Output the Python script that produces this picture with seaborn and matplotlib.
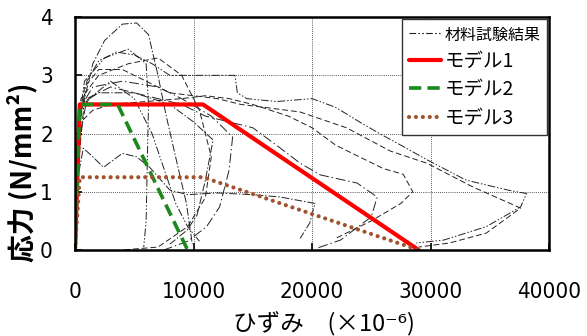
import numpy as np
import pandas as pd
import seaborn as sns
import matplotlib.pyplot as plt
from matplotlib.lines import Line2D
from matplotlib import font_manager

# material test curves: strain (x10^-6) and stress (N/mm2)
test1_strain = [0, 300, 800, 1500, 2500, 4000, 5200, 6200, 7000, 7700, 8600, 9400, 9900]
test1_stress = [0, 1.5, 2.6, 3.2, 3.6, 3.88, 3.9, 3.7, 3.0, 2.3, 1.5, 0.8, 0.1]

test2_strain = [0, 400, 1000, 2000, 3500, 5000, 6500, 8000, 10000, 12000, 13500, 13700, 14500,
                17000, 20000, 22000, 24000, 25700, 27500, 29700, 33000, 36500, 38100, 37600,
                34700, 31100, 28800]
test2_stress = [0, 2.2, 2.9, 3.25, 3.4, 3.35, 3.2, 3.0, 3.0, 3.0, 3.0, 2.7, 2.6,
                2.55, 2.6, 2.45, 2.2, 2.0, 1.8, 1.55, 1.2, 1.03, 0.97, 0.74,
                0.4, 0.17, 0.12]

test3_strain = [0, 300, 800, 2000, 4000, 6000, 8000, 10000, 12000, 14000, 16000, 19000,
                22900, 26600, 29700, 33600, 37600, 34700, 31600, 29000]
test3_stress = [0, 2.0, 2.8, 3.1, 3.1, 2.9, 2.7, 2.65, 2.6, 2.5, 2.45, 2.37,
                2.1, 1.7, 1.49, 1.08, 0.72, 0.29, 0.12, 0.05]

test4_strain = [0, 300, 1000, 3000, 5000, 7000, 9000, 11000, 13000, 15000, 17000, 19000,
                20700, 23800, 25500, 25000, 22400, 20400]
test4_stress = [0, 1.8, 2.6, 2.8, 2.7, 2.6, 2.5, 2.3, 2.2, 2.1, 1.8, 1.49,
                1.29, 1.15, 0.91, 0.57, 0.17, 0.03]

test5_strain = [0, 200, 700, 1500, 2400, 4000, 5200, 6300, 8000, 9500, 12000, 15000,
                17300, 20250, 19800, 19000]
test5_stress = [0, 1.2, 1.75, 1.6, 1.42, 1.66, 1.6, 1.42, 1.03, 0.95, 0.98, 0.95,
                0.91, 0.8, 0.46, 0.2]

test6_strain = [0, 300, 1200, 3000, 5000, 6500, 7500, 8500, 9500, 10500]
test6_stress = [0, 2.3, 2.6, 2.9, 2.6, 2.0, 1.4, 0.8, 0.4, 0.15]

test7_strain = [0, 500, 2000, 4500, 7000, 9000, 10500, 11500, 11000, 9500, 7000, 4000]
test7_stress = [0, 2.6, 3.0, 3.2, 3.3, 3.0, 2.4, 1.6, 0.9, 0.4, 0.05, 0]

test8_strain = [0, 300, 1500, 4000, 7000, 9000, 11500, 13300, 13000, 12200, 11100, 9500, 7500]
test8_stress = [0, 2.4, 2.8, 2.9, 2.8, 2.6, 2.3, 1.94, 1.37, 0.74, 0.4, 0.15, 0]

test9_strain = [0, 400, 2000, 5000, 8000, 10000, 11650, 11000, 10300, 9450, 8000]
test9_stress = [0, 2.5, 2.7, 2.7, 2.5, 2.2, 1.89, 1.2, 0.6, 0.34, 0.1]

test10_strain = [0, 200, 800, 2500, 4500, 6000, 6200, 6100, 6000, 5800]
test10_stress = [0, 2.0, 2.9, 3.3, 3.45, 3.2, 2.5, 1.5, 0.5, 0.05]

test11_strain = [0, 500, 1500, 3000, 6000, 9000, 11000, 13000, 15000, 18000, 20000, 22000,
                 24000, 26000, 27700, 28500, 27500, 25000, 22000]
test11_stress = [0, 2.2, 2.4, 2.5, 2.55, 2.6, 2.65, 2.6, 2.5, 2.3, 2.1, 1.8,
                 1.6, 1.4, 1.3, 1.0, 0.8, 0.5, 0.2]

# model curves
model1_strain = [0, 400, 10800, 29000]
model1_stress = [0, 2.5, 2.5, 0]
model2_strain = [0, 400, 3600, 9500]
model2_stress = [0, 2.5, 2.5, 0]
model3_strain = [0, 400, 10800, 29000]
model3_stress = [0, 1.25, 1.25, 0]

x_ticks = [0, 10000, 20000, 30000, 40000]
y_ticks = [0, 1, 2, 3, 4]
legend_labels = ['材料試験結果', 'モデル1', 'モデル2', 'モデル3']

tests = [(test1_strain, test1_stress), (test2_strain, test2_stress), (test3_strain, test3_stress),
         (test4_strain, test4_stress), (test5_strain, test5_stress), (test6_strain, test6_stress),
         (test7_strain, test7_stress), (test8_strain, test8_stress), (test9_strain, test9_stress),
         (test10_strain, test10_stress), (test11_strain, test11_stress)]
frames = []
for i, (xs, ys) in enumerate(tests):
    frames.append(pd.DataFrame({'strain': xs, 'stress': ys, 'curve': 'T%d' % (i + 1)}))
test_df = pd.concat(frames, ignore_index=True)

dash_cycle = [(8, 2, 1.5, 2), (8, 2, 1.5, 2, 1.5, 2), (6, 3), (10, 3, 1.5, 3)]
test_dashes = [dash_cycle[i % len(dash_cycle)] for i in range(len(tests))]

# narrow font for the numbers, if one is around
fonts = font_manager.fontManager.ttflist
names = {f.name for f in fonts}
num_font = dict(fontfamily='Roboto', fontsize=16)
if 'Liberation Sans Narrow' in names:
    num_font = dict(fontfamily='Liberation Sans Narrow', fontsize=17)
elif any(f.name == 'DejaVu Sans' and f.stretch == 'condensed' for f in fonts):
    num_font = dict(fontfamily='DejaVu Sans', fontstretch='condensed', fontsize=16)

sns.set_style('white')
plt.rcParams['font.family'] = ['Noto Sans CJK JP', 'DejaVu Sans']
plt.rcParams['text.color'] = 'black'
plt.rcParams['axes.labelcolor'] = 'black'
plt.rcParams['xtick.color'] = 'black'
plt.rcParams['ytick.color'] = 'black'

fig = plt.figure(figsize=(5.87, 3.36), dpi=100)
ax = fig.add_axes([0.1278, 0.256, 0.8075, 0.693])

sns.lineplot(data=test_df, x='strain', y='stress', style='curve', dashes=test_dashes,
             units='curve', estimator=None, sort=False, color='#222222', lw=0.7,
             legend=False, ax=ax)

sns.lineplot(x=model1_strain, y=model1_stress, sort=False, color='#FF0000', lw=3,
             ax=ax)
sns.lineplot(x=model2_strain, y=model2_stress, sort=False, color='#1A8A1A', lw=2.6,
             linestyle=(0, (3.4, 1.7)), ax=ax)
sns.lineplot(x=model3_strain, y=model3_stress, sort=False, color='#A0522D', lw=3,
             linestyle=(0, (0.01, 1.65)), dash_capstyle='round', ax=ax)

ax.set_xlim(0, 40000)
ax.set_ylim(0, 4)
ax.set_xticks(x_ticks, labels=[str(v) for v in x_ticks], **num_font)
ax.set_yticks(y_ticks, labels=[str(v) for v in y_ticks], **num_font)
ax.tick_params(axis='x', direction='in', length=5, width=1.2, bottom=True, pad=23)
ax.tick_params(axis='y', direction='in', length=5, width=1.2, left=True, pad=16)
ax.grid(True, color='#222222', linestyle=(0, (1, 1.5)), lw=0.6)
for s in ax.spines.values():
    s.set_color('black')
    s.set_linewidth(1.8)

ax.set_ylabel('応力 (N/mm²)', fontsize=20, fontweight='bold')
ax.yaxis.set_label_coords(-0.08, 0.335)
ax.set_xlabel('ひずみ　(×10⁻⁶)', fontsize=17)
ax.xaxis.set_label_coords(0.525, -0.265)

handles = [
    Line2D([], [], color='#222222', lw=0.8, linestyle=(0, (6, 2, 1.5, 2, 1.5, 2))),
    Line2D([], [], color='#FF0000', lw=3),
    Line2D([], [], color='#1A8A1A', lw=2.6, linestyle=(0, (3.4, 1.7))),
    Line2D([], [], color='#A0522D', lw=3, linestyle=(0, (0.01, 1.65)), dash_capstyle='round'),
]
leg = ax.legend(handles, legend_labels, loc='upper right', bbox_to_anchor=(1.0, 1.0),
                borderaxespad=0.1, fontsize=14, handlelength=1.65, handletextpad=0.15,
                labelspacing=0.38, borderpad=0.35, fancybox=False, framealpha=1,
                edgecolor='#333333')
leg.get_frame().set_linewidth(1.0)
leg.get_texts()[0].set_fontsize(11.5)

fig.savefig('out.png', dpi=100)
